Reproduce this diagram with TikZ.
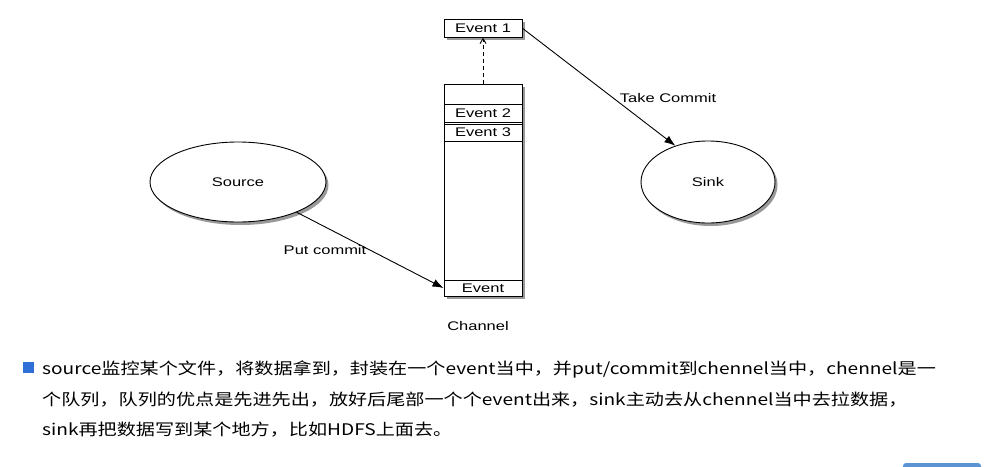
\documentclass[tikz,border=0pt]{standalone}
\usepackage{fontspec}
\newfontfamily\diagfont[FakeStretch=1.32]{Liberation Sans}
\newfontfamily\cjkfont[FakeStretch=1.195]{Noto Sans CJK SC}
\usetikzlibrary{shapes.geometric,shadows,arrows.meta}
\definecolor{bulletblue}{HTML}{2F6FD6}
\definecolor{btnblue}{HTML}{5B93D3}
\tikzset{
  shad/.style={drop shadow={shadow xshift=2.5pt,shadow yshift=-3pt,opacity=0.4,fill=black}},
  evbox/.style={draw,fill=white,line width=0.9pt,minimum width=78pt,inner sep=0pt,
    font=\diagfont\fontsize{12.5}{14}\selectfont},
  ell/.style={ellipse,draw,fill=white,line width=0.9pt,inner sep=0pt,
    font=\diagfont\fontsize{12.5}{14}\selectfont,shad},
  lbl/.style={font=\diagfont\fontsize{12.5}{14}\selectfont,inner sep=0pt},
  conn/.style={line width=0.9pt,-{Latex[length=11pt,width=8pt]}},
  para/.style={anchor=west,inner sep=0pt,font=\cjkfont\fontsize{16}{18}\selectfont}
}
\begin{document}
\begin{tikzpicture}[x=1pt,y=-1pt]
\useasboundingbox (0,0) rectangle (984,466);
\clip (0,0) rectangle (984,466);
\fill[white] (0,0) rectangle (984,466);

% channel
\node[evbox,minimum height=212pt,shad] (channel) at (483,190) {};
\node[evbox,minimum height=18.5pt] (e2) at (483,113.3) {Event 2};
\node[evbox,minimum height=16.7pt] (e3) at (483,132.6) {Event 3};
\node[evbox,minimum height=16pt] (ev) at (483,288) {Event};
\node[lbl] (chlabel) at (478,326) {Channel};

% event 1
\node[evbox,minimum height=18pt,shad] (e1) at (483,28.3) {Event 1};

% source & sink
\node[ell,minimum width=176pt,minimum height=80pt] (source) at (238,182) {Source};
\node[ell,minimum width=134pt,minimum height=82pt] (sink) at (708,182) {Sink};

% connectors
\draw[line width=0.9pt,dashed,dash pattern=on 4pt off 3pt,-{Straight Barb[length=5pt,width=6pt]}] (channel.north) -- (e1.south);
\draw[conn] (source) -- (ev.west);
\draw[conn] (e1.east) -- (sink.132);
\node[lbl] (put) at (325,250) {Put commit};
\node[lbl] (take) at (668,98) {Take Commit};

% bottom text
\fill[bulletblue] (23,362) rectangle (34,373);
\node[para] (l1) at (42,369) {source监控某个文件，将数据拿到，封装在一个event当中，并put/commit到chennel当中，chennel是一};
\node[para] (l2) at (42,400) {个队列，队列的优点是先进先出，放好后尾部一个个event出来，sink主动去从chennel当中去拉数据，};
\node[para] (l3) at (42,430) {sink再把数据写到某个地方，比如HDFS上面去。};

% partial button at bottom right
\fill[btnblue,rounded corners=3pt] (903,463) rectangle (981,490);
\end{tikzpicture}
\end{document}
